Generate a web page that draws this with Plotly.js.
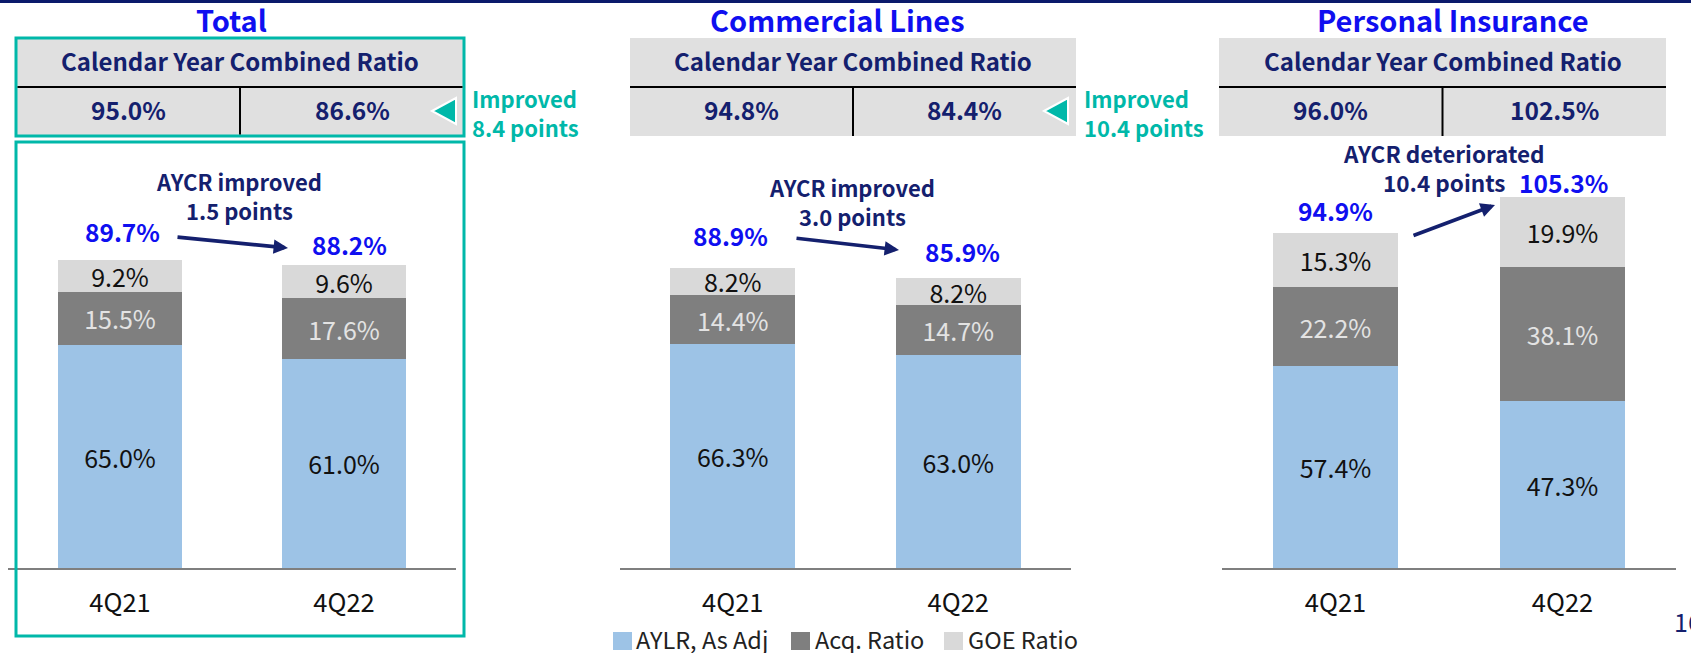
<!DOCTYPE html>
<html>
<head>
<meta charset="utf-8">
<script src="https://cdn.plot.ly/plotly-3.0.1.min.js"></script>
<style>
  html, body { margin: 0; padding: 0; background: #ffffff; }
  #chart { width: 1691px; height: 653px; }
</style>
</head>
<body>
<div id="chart"></div>
<script>
// ---------------- DATA ----------------
const categories = ['4Q21', '4Q22'];
const panelTitles = ['Total', 'Commercial Lines', 'Personal Insurance'];
const seriesNames = ['AYLR, As Adj', 'Acq. Ratio', 'GOE Ratio'];

const aylrTotal = [65.0, 61.0];
const acqTotal = [15.5, 17.6];
const goeTotal = [9.2, 9.6];

const aylrCommercial = [66.3, 63.0];
const acqCommercial = [14.4, 14.7];
const goeCommercial = [8.2, 8.2];

const aylrPersonal = [57.4, 47.3];
const acqPersonal = [22.2, 38.1];
const goePersonal = [15.3, 19.9];

const cyHeader = 'Calendar Year Combined Ratio';
const cyTotal = [95.0, 86.6];
const cyCommercial = [94.8, 84.4];
const cyPersonal = [96.0, 102.5];

const cyNoteTotal = ['Improved', '8.4 points'];
const cyNoteCommercial = ['Improved', '10.4 points'];

const aycrNoteTotal = ['AYCR improved', '1.5 points'];
const aycrNoteCommercial = ['AYCR improved', '3.0 points'];
const aycrNotePersonal = ['AYCR deteriorated', '10.4 points'];

const pageNumber = '16';

// ---------------- STYLE / GEOMETRY ----------------
const W = 1691, H = 653;
const FONT = '"Noto Sans CJK JP", "Source Sans Pro", "Noto Sans", sans-serif';
const NAVY = '#14206E';
const BLUE = '#0F0FF0';
const TEAL = '#00B8A9';
const HEADGRAY = '#E0E0E0';
const seriesColors = ['#9DC3E6', '#7F7F7F', '#D9D9D9'];
const labelColors = ['#111111', '#E3E3E3', '#111111'];

const px = v => v / W;
const py = v => 1 - v / H;

const panels = [
  { aylr: aylrTotal, acq: acqTotal, goe: goeTotal, cy: cyTotal, cyNote: cyNoteTotal, aycr: aycrNoteTotal,
    xDom: [8, 456], scale: 3.43, box: [16, 464], titleX: 231,
    aycrX: 239, aycrY: 197, totShift: [27, 19], totDx: [2, 5],
    arrow: [176, 237, 288, 248], tealFrame: true },
  { aylr: aylrCommercial, acq: acqCommercial, goe: goeCommercial, cy: cyCommercial, cyNote: cyNoteCommercial, aycr: aycrNoteCommercial,
    xDom: [620, 1071], scale: 3.38, box: [630, 1076], titleX: 837,
    aycrX: 852, aycrY: 203, totShift: [30, 24], totDx: [-2, 4],
    arrow: [795, 238, 899, 250], tealFrame: false },
  { aylr: aylrPersonal, acq: acqPersonal, goe: goePersonal, cy: cyPersonal, cyNote: null, aycr: aycrNotePersonal,
    xDom: [1222, 1676], scale: 3.525, box: [1219, 1666], titleX: 1453,
    aycrX: 1444, aycrY: 170, totShift: [21, 12], totDx: [0, 1],
    arrow: [1412, 236, 1495, 205], tealFrame: false }
];

const AXIS_Y = 568, PLOT_TOP = 140;

const traces = [];
const layout = {
  width: W, height: H,
  margin: { l: 0, r: 0, t: 0, b: 0 },
  paper_bgcolor: '#ffffff', plot_bgcolor: 'rgba(0,0,0,0)',
  barmode: 'stack',
  showlegend: false,
  font: { family: FONT, color: '#111111' },
  annotations: [], shapes: []
};

const fmt = v => v.toFixed(1) + '%';

function note(xPx, yPx, text, size, color, xanchor, extra) {
  const a = {
    xref: 'paper', yref: 'paper', x: px(xPx), y: py(yPx - 2),
    xanchor: xanchor || 'center', yanchor: 'middle',
    text: text, showarrow: false,
    font: { family: FONT, size: size, color: color }
  };
  return Object.assign(a, extra || {});
}

panels.forEach((p, i) => {
  const sfx = i === 0 ? '' : String(i + 1);
  const xa = 'x' + sfx, ya = 'y' + sfx;
  const vals = [p.aylr, p.acq, p.goe];
  vals.forEach((v, s) => {
    traces.push({
      type: 'bar', name: seriesNames[s], x: categories, y: v,
      xaxis: xa, yaxis: ya, width: 0.555,
      marker: { color: seriesColors[s], line: { width: 0 } },
      text: v.map(fmt), textposition: 'inside', insidetextanchor: 'middle',
      textangle: 0, constraintext: 'none',
      textfont: { family: FONT, size: 25, color: labelColors[s] },
      hoverinfo: 'name+y', showlegend: false, cliponaxis: false
    });
  });
  layout['xaxis' + sfx] = {
    domain: [px(p.xDom[0]), px(p.xDom[1])], anchor: ya,
    range: [-0.5, 1.5], type: 'category', fixedrange: true,
    showline: true, linecolor: '#7F7F7F', linewidth: 2,
    showgrid: false, zeroline: false, ticks: '',
    tickfont: { family: FONT, size: 25.5, color: '#111111' },
    ticklabelstandoff: 11
  };
  layout['yaxis' + sfx] = {
    domain: [py(AXIS_Y), py(PLOT_TOP)], anchor: xa,
    range: [0, (AXIS_Y - PLOT_TOP) / p.scale], visible: false, fixedrange: true
  };

  // totals above bars
  categories.forEach((c, k) => {
    const tot = p.aylr[k] + p.acq[k] + p.goe[k];
    layout.annotations.push({
      xref: xa, yref: ya, x: c, y: tot, yshift: p.totShift[k] + 2, xshift: p.totDx[k],
      xanchor: 'center', yanchor: 'middle',
      text: '<b>' + fmt(tot) + '</b>', showarrow: false,
      font: { family: FONT, size: 24.5, color: BLUE }
    });
  });

  // panel title
  layout.annotations.push(note(p.titleX, 21, '<b>' + panelTitles[i] + '</b>', 29, BLUE, 'center', { height: 34 }));

  // header table
  const [bx0, bx1] = p.box;
  const mid = (bx0 + bx1) / 2;
  layout.shapes.push({
    type: 'rect', xref: 'paper', yref: 'paper',
    x0: px(bx0), x1: px(bx1), y0: py(136), y1: py(38),
    fillcolor: HEADGRAY,
    line: p.tealFrame ? { color: TEAL, width: 3 } : { width: 0 },
    layer: 'below'
  });
  layout.shapes.push({
    type: 'line', xref: 'paper', yref: 'paper',
    x0: px(bx0 + (p.tealFrame ? 1.5 : 0)), x1: px(bx1 - (p.tealFrame ? 1.5 : 0)), y0: py(87), y1: py(87),
    line: { color: '#000000', width: 2 }
  });
  layout.shapes.push({
    type: 'line', xref: 'paper', yref: 'paper',
    x0: px(mid), x1: px(mid), y0: py(87), y1: py(136 - (p.tealFrame ? 1.5 : 0)),
    line: { color: '#000000', width: 2 }
  });
  layout.annotations.push(note(mid, 62, '<b>' + cyHeader + '</b>', 24, NAVY));
  p.cy.forEach((v, k) => {
    const cx = k === 0 ? (bx0 + mid) / 2 : (mid + bx1) / 2;
    layout.annotations.push(note(cx, 112, '<b>' + fmt(v) + '</b>', 24.5, NAVY, 'center'));
  });

  // CY change note with triangle
  if (p.cyNote) {
    const tx = bx1 - 32; // tip
    layout.shapes.push({
      type: 'path', xref: 'paper', yref: 'paper',
      path: 'M' + px(tx) + ',' + py(111) + ' L' + px(tx + 24) + ',' + py(98) +
            ' L' + px(tx + 24) + ',' + py(124) + ' Z',
      fillcolor: TEAL, line: { color: '#ffffff', width: 2 }
    });
    layout.annotations.push(note(bx1 + 6, 114.5, '<b>' + p.cyNote.join('<br>') + '</b>', 22, TEAL, 'left', { align: 'left' }));
  }

  // teal frame around body of Total panel
  if (p.tealFrame) {
    layout.shapes.push({
      type: 'rect', xref: 'paper', yref: 'paper',
      x0: px(bx0), x1: px(bx1), y0: py(636), y1: py(142),
      line: { color: TEAL, width: 3 }, fillcolor: 'rgba(0,0,0,0)'
    });
  }

  // AYCR note
  layout.annotations.push(note(p.aycrX, p.aycrY, '<b>' + p.aycr.join('<br>') + '</b>', i === 2 ? 22.5 : 22, NAVY, 'center', { align: 'center' }));

  // arrow
  const [sx, sy, ex, ey] = p.arrow;
  layout.annotations.push({
    xref: 'paper', yref: 'paper', x: px(ex), y: py(ey),
    ax: sx - ex, ay: sy - ey, axref: 'pixel', ayref: 'pixel',
    text: '', showarrow: true, arrowhead: 2, arrowsize: 0.8, arrowwidth: 3.6,
    arrowcolor: NAVY, standoff: 0, startstandoff: 0
  });
});

// top navy rule
layout.shapes.push({
  type: 'rect', xref: 'paper', yref: 'paper', x0: 0, x1: 1, y0: py(3), y1: 1,
  fillcolor: '#0B1A6B', line: { width: 0 }
});

// manual legend
const legendItems = [
  { sq: 613, tx: 634 },
  { sq: 791, tx: 813 },
  { sq: 944, tx: 966 }
];
seriesNames.forEach((n, s) => {
  const it = legendItems[s];
  layout.shapes.push({
    type: 'rect', xref: 'paper', yref: 'paper',
    x0: px(it.sq), x1: px(it.sq + 19), y0: py(650), y1: py(632),
    fillcolor: seriesColors[s], line: { width: 0 }
  });
  layout.annotations.push(note(it.tx, 641, n, 23.5, '#222222', 'left'));
});

// page number
layout.annotations.push(note(1672, 623, pageNumber, 25, NAVY, 'left'));

Plotly.newPlot('chart', traces, layout, { staticPlot: true, displayModeBar: false });
</script>
</body>
</html>
